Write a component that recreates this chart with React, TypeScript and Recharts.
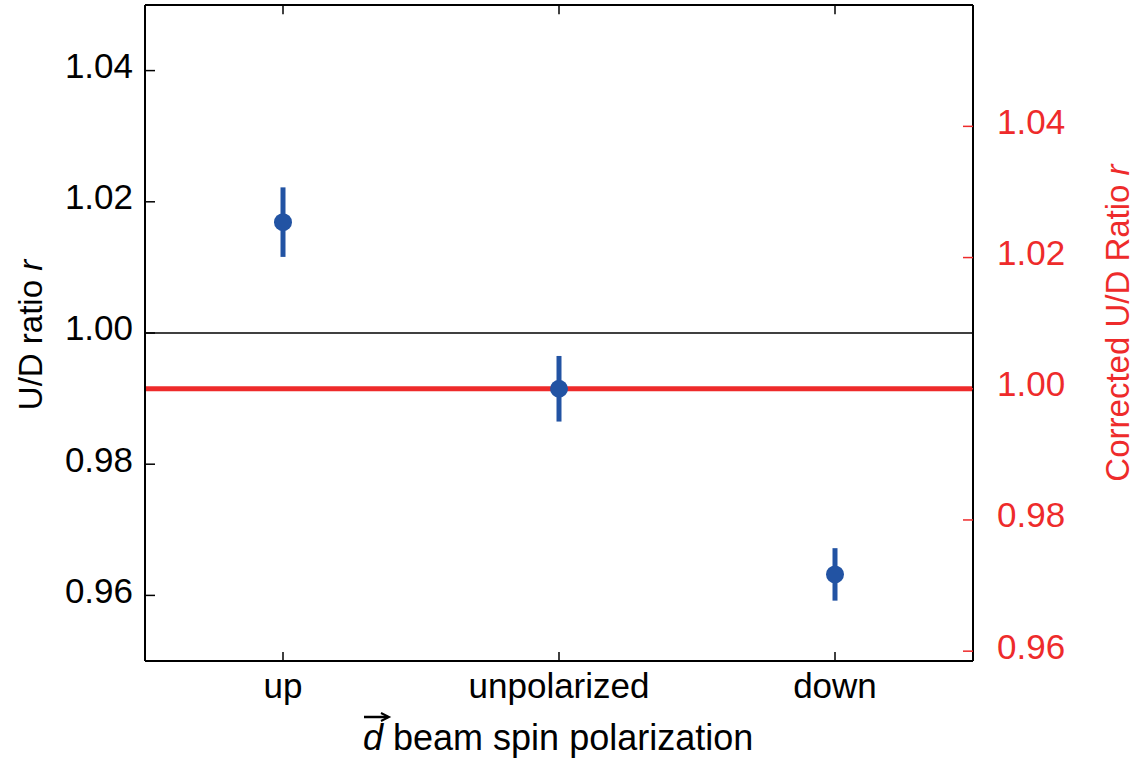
import { ComposedChart, Scatter, ErrorBar, XAxis, YAxis, ReferenceLine } from 'recharts';

// values
const categories = ['up', 'unpolarized', 'down'];
const ratios = [1.0169, 0.9915, 0.9632];
const errors = [0.0053, 0.005, 0.004];
const leftTicks = [0.96, 0.98, 1.0, 1.02, 1.04];
const rightTicks = [0.96, 0.98, 1.0, 1.02, 1.04];
const leftDomain = [0.95, 1.05];
const rightDomain = [0.9585, 1.0585];

const BLUE = '#2253a3';
const RED = '#ee2b2b';
const FONT = '"Liberation Sans", Arial, sans-serif';
// inward tick length on the top spine, in left-axis units
const TOP_TICK = 0.0014;

const data = categories.map((pol, i) => ({ pol, r: ratios[i], err: errors[i] }));

const makeTick = (color: string, anchor: string, shiftY: number, fmt: (v: any) => string) => (props: any) => (
  <text
    x={props.x}
    y={props.y + shiftY}
    dy="0.355em"
    textAnchor={anchor}
    fill={color}
    fontSize={35}
    fontFamily={FONT}
  >
    {fmt(props.payload.value)}
  </text>
);

const fmt2 = (v: number) => Number(v).toFixed(2);

const LeftLabel = (props: any) => {
  const { x, y, height } = props.viewBox;
  const cx = x + 15;
  const cy = y + height / 2 + 2;
  return (
    <text
      x={cx}
      y={cy}
      transform={`rotate(-90 ${cx} ${cy})`}
      textAnchor="middle"
      dominantBaseline="central"
      fontSize={33}
      fontFamily={FONT}
      fill="#000"
    >
      U/D ratio <tspan fontStyle="italic">r</tspan>
    </text>
  );
};

const RightLabel = (props: any) => {
  const { x, y, height } = props.viewBox;
  const cx = x + 144;
  const cy = y + height / 2 - 10;
  return (
    <text
      x={cx}
      y={cy}
      transform={`rotate(-90 ${cx} ${cy})`}
      textAnchor="middle"
      dominantBaseline="central"
      fontSize={33}
      fontFamily={FONT}
      fill={RED}
    >
      Corrected U/D Ratio <tspan fontStyle="italic">r</tspan>
    </text>
  );
};

const BottomLabel = (props: any) => {
  const { x, y } = props.viewBox;
  const sx = x + 218;
  const base = y + 89;
  const ay = base - 33;
  return (
    <g>
      <text x={sx} y={base} fontSize={36} fontFamily={FONT} fill="#000">
        <tspan fontStyle="italic">d</tspan> beam spin polarization
      </text>
      <path d={`M ${sx + 1} ${ay} L ${sx + 25} ${ay}`} stroke="#000" strokeWidth={2.5} fill="none" />
      <path
        d={`M ${sx + 18} ${ay - 4} L ${sx + 26} ${ay} L ${sx + 18} ${ay + 4}`}
        stroke="#000"
        strokeWidth={2}
        fill="none"
      />
    </g>
  );
};

export default function App() {
  return (
    <div style={{ position: 'absolute', left: 0, top: 0, background: '#fff' }}>
      <ComposedChart width={1139} height={763} data={data} margin={{ top: 4, right: 20, bottom: 22, left: 15 }}>
        <XAxis
          xAxisId="bottom"
          dataKey="pol"
          type="category"
          scale="band"
          height={80}
          interval={0}
          axisLine={{ stroke: '#000', strokeWidth: 2 }}
          tickLine={{ stroke: '#000', strokeWidth: 1.5 }}
          tickSize={-9}
          tickMargin={34}
          tick={makeTick('#000', 'middle', 0, (v) => String(v))}
          label={<BottomLabel />}
        />
        <XAxis
          xAxisId="top"
          orientation="top"
          dataKey="pol"
          type="category"
          scale="band"
          height={1}
          axisLine={{ stroke: '#000', strokeWidth: 2 }}
          tickLine={false}
          tick={false}
        />
        <YAxis
          yAxisId="left"
          orientation="left"
          type="number"
          width={130}
          domain={leftDomain}
          ticks={leftTicks}
          allowDataOverflow
          axisLine={{ stroke: '#000', strokeWidth: 2 }}
          tickLine={{ stroke: '#000', strokeWidth: 1.5 }}
          tickSize={-10}
          tickMargin={22}
          tick={makeTick('#000', 'end', -5, fmt2)}
          label={<LeftLabel />}
        />
        <YAxis
          yAxisId="right"
          orientation="right"
          type="number"
          width={146}
          domain={rightDomain}
          ticks={rightTicks}
          allowDataOverflow
          axisLine={{ stroke: '#000', strokeWidth: 2 }}
          tickLine={{ stroke: RED, strokeWidth: 1.5 }}
          tickSize={-10}
          tickMargin={34}
          tick={makeTick(RED, 'start', -5, fmt2)}
          label={<RightLabel />}
        />
        {categories.map((c) => (
          <ReferenceLine
            key={c}
            xAxisId="bottom"
            yAxisId="left"
            segment={[
              { x: c, y: leftDomain[1] },
              { x: c, y: leftDomain[1] - TOP_TICK },
            ]}
            stroke="#000"
            strokeWidth={1.5}
            ifOverflow="visible"
          />
        ))}
        <ReferenceLine yAxisId="left" xAxisId="bottom" y={1} stroke="#000" strokeWidth={1.5} />
        <ReferenceLine yAxisId="right" xAxisId="bottom" y={1} stroke={RED} strokeWidth={5} />
        <Scatter
          xAxisId="bottom"
          yAxisId="left"
          dataKey="r"
          fill={BLUE}
          isAnimationActive={false}
          shape={(p: any) => <circle cx={p.cx} cy={p.cy} r={9} fill={BLUE} />}
        >
          <ErrorBar dataKey="err" direction="y" width={0} stroke={BLUE} strokeWidth={5} />
        </Scatter>
      </ComposedChart>
    </div>
  );
}
